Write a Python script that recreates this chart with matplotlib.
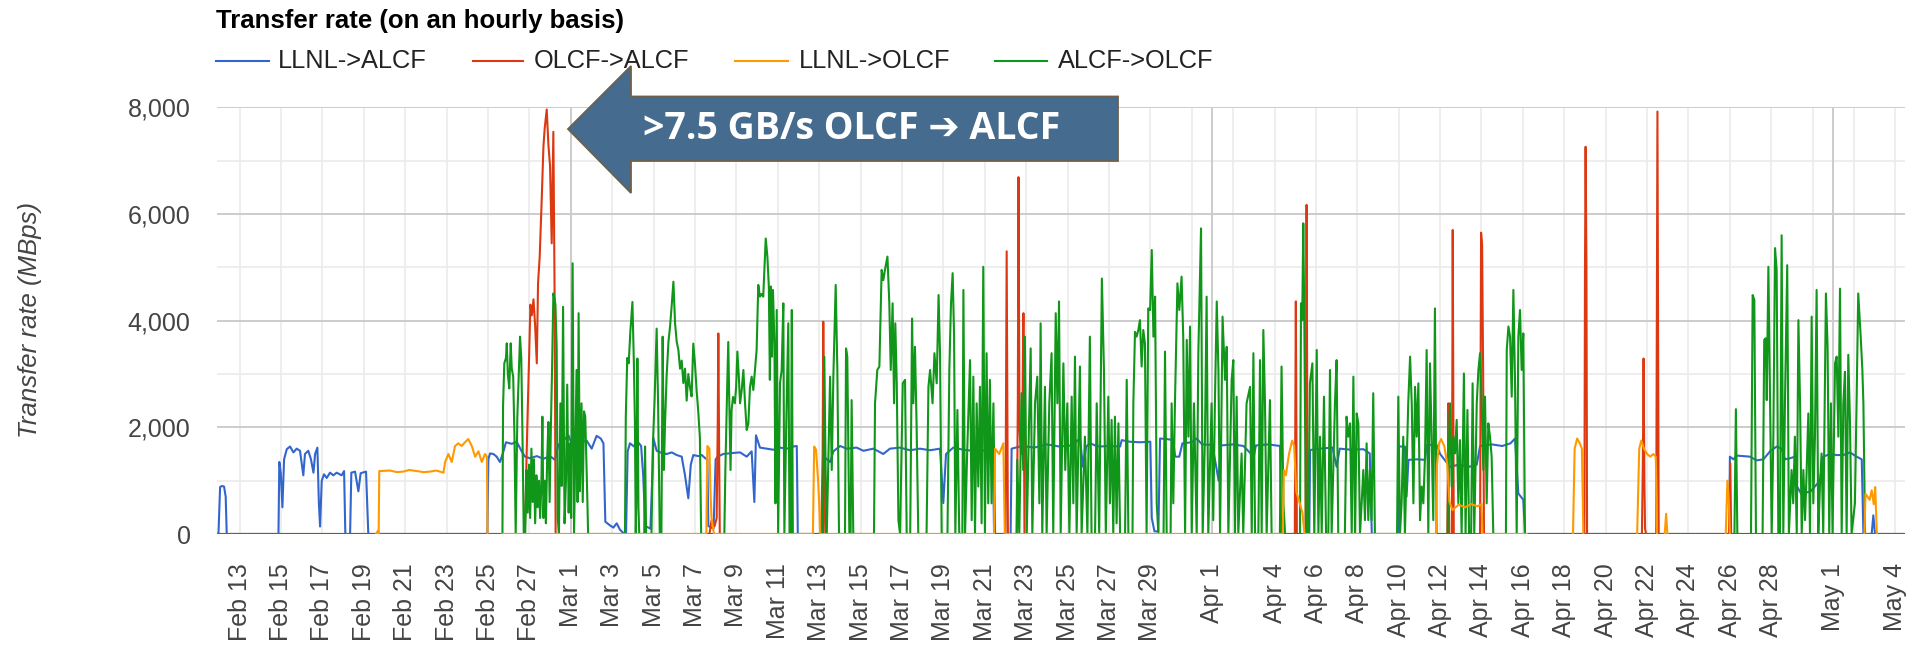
import numpy as np
import matplotlib
matplotlib.use("Agg")
import matplotlib.pyplot as plt
from matplotlib.patches import Polygon
from matplotlib.lines import Line2D
from datetime import datetime

W, H = 1915, 646
START = datetime(2021, 2, 12)   # day 0 of the time axis

# (days since Feb 12, transfer rate in MBps); None = no data
llnl_alcf = [
    (-0.09, 0), (-0.02, 0), (0.06, 880), (0.15, 900), (0.25, 890), (0.33, 700), (0.38, 0),
    (2.88, 0), (2.92, 1350), (2.99, 1150), (3.07, 500), (3.15, 1400), (3.28, 1590), (3.44, 1640),
    (3.60, 1530), (3.76, 1600), (3.92, 1560), (4.08, 1100), (4.16, 1500), (4.32, 1560), (4.45, 1400),
    (4.57, 1150), (4.65, 1500), (4.76, 1620), (4.83, 600), (4.89, 140), (4.97, 1000), (5.08, 1120),
    (5.21, 1050), (5.37, 1150), (5.53, 1100), (5.69, 1150), (5.93, 1100), (6.05, 1180), (6.11, 0),
    (6.34, 0), (6.40, 1150), (6.58, 1170), (6.74, 800), (6.85, 1140), (7.11, 1170), (7.22, 0),
    (12.97, 0), (13.02, 1400), (13.10, 1510), (13.26, 1500), (13.42, 1450), (13.58, 1350),
    (13.75, 1550), (13.87, 1720), (14.15, 1690), (14.39, 1730), (14.63, 1550), (14.79, 1450),
    (15.03, 1420), (15.36, 1460), (15.68, 1410), (16.00, 1460), (16.24, 1390), (16.40, 1670),
    (16.64, 1750), (16.89, 1850), (17.13, 1600), (17.45, 1720), (17.77, 1750), (18.01, 1600),
    (18.25, 1840), (18.45, 1790), (18.58, 1700), (18.67, 230), (18.90, 160), (19.06, 120),
    (19.22, 200), (19.38, 80), (19.54, 20), (19.59, 0), (19.67, 0), (19.75, 1550), (19.86, 1700),
    (20.06, 1640), (20.19, 1750), (20.40, 1650), (20.50, 1100), (20.60, 150), (20.85, 100),
    (20.95, 1200), (20.99, 1800), (21.15, 1560), (21.39, 1520), (21.64, 1500), (21.88, 1530),
    (22.12, 1480), (22.36, 1450), (22.52, 1100), (22.68, 670), (22.80, 1300), (22.92, 1480),
    (23.17, 1460), (23.33, 1480), (23.50, 1420), (23.60, 1400), (23.65, 150), (23.90, 100),
    (24.00, 1400), (24.10, 1450), (24.37, 1500), (24.86, 1520), (25.18, 1530), (25.50, 1450),
    (25.74, 1550), (25.87, 600), (25.95, 1850), (26.14, 1620), (26.47, 1600), (26.79, 1580),
    (27.11, 1620), (27.43, 1600), (27.75, 1640), (27.92, 1650), (27.97, 0), (29.18, 0),
    (29.22, 1450), (29.53, 1350), (29.69, 1550), (30.01, 1650), (30.33, 1600), (30.81, 1620),
    (31.14, 1560), (31.62, 1600), (32.10, 1500), (32.42, 1600), (32.91, 1620), (33.39, 1570),
    (33.87, 1600), (34.36, 1570), (34.84, 1600), (35.00, 580), (35.13, 1500), (35.48, 1620),
    (35.97, 1580), (36.61, 1550), (37.26, 1580), (37.40, 1600), (37.45, 0), (38.25, 0),
    (38.30, 1600), (38.80, 1650), (39.40, 1620), (40.00, 1680), (40.60, 1640), (41.20, 1660),
    (41.60, 1790), (41.75, 1260), (41.90, 1640), (42.10, 1700), (42.40, 1650), (42.57, 1640),
    (43.00, 1650), (43.54, 1640), (43.62, 1760), (44.00, 1730), (44.50, 1720), (45.00, 1730),
    (45.07, 300), (45.20, 50), (45.39, 50), (45.47, 1790), (45.80, 1780), (46.10, 1760),
    (46.20, 1450), (46.40, 1450), (46.55, 1700), (47.00, 1720), (47.24, 1790), (47.50, 1680),
    (48.00, 1670), (48.30, 1000), (48.40, 1660), (49.00, 1680), (49.50, 1650), (50.00, 1450),
    (50.10, 1660), (50.70, 1680), (51.27, 1650), (51.32, 0), (52.68, 0), (52.72, 1575),
    (53.20, 1600), (53.80, 1620), (54.00, 1260), (54.15, 1600), (54.70, 1580), (55.30, 1590),
    (55.60, 1510), (55.70, 0), (56.96, 0), (57.00, 1640), (57.30, 1640), (57.38, 700),
    (57.47, 1390), (57.90, 1400), (58.27, 1390), (58.35, 1670), (58.83, 1670), (59.00, 1500),
    (59.48, 1260), (59.90, 1300), (60.40, 1260), (60.77, 1300), (60.93, 1650), (61.50, 1680),
    (62.00, 1650), (62.40, 1700), (62.62, 1790), (62.78, 760), (63.02, 640), (63.10, 0),
    (72.97, 0), (73.00, 1450), (73.17, 1400), (73.33, 1470), (73.65, 1460), (73.97, 1450),
    (74.29, 1380), (74.62, 1400), (74.94, 1550), (75.26, 1640), (75.50, 1600), (75.66, 1400),
    (75.90, 1420), (76.15, 1450), (76.23, 900), (76.45, 750), (76.90, 800), (77.35, 1000),
    (77.51, 1450), (77.84, 1500), (78.16, 1480), (78.48, 1480), (78.80, 1530), (79.12, 1450),
    (79.37, 1400), (79.45, 0), (79.85, 0), (79.93, 350), (80.01, 0), (81.46, 0),
]

olcf_alcf = [
    (-0.09, 0), (14.78, 0), (14.90, 2000), (15.00, 3500), (15.05, 4300), (15.12, 4100),
    (15.20, 4400), (15.28, 3900), (15.36, 3200), (15.42, 4700), (15.50, 5200), (15.60, 6300),
    (15.68, 7260), (15.74, 7600), (15.84, 7960), (15.92, 7300), (16.00, 6900), (16.08, 5450),
    (16.16, 7540), (16.22, 4500), (16.27, 0), (23.70, 0), (23.80, 250), (23.95, 150),
    (24.05, 300), (24.10, 2000), (24.13, 3760), (24.17, 1500), (24.20, 0), (29.10, 0),
    (29.17, 1500), (29.20, 3980), (29.25, 1000), (29.30, 0), (38.00, 0), (38.06, 5300),
    (38.12, 0), (38.55, 0), (38.60, 2500), (38.63, 6690), (38.68, 2000), (38.75, 1500),
    (38.82, 2200), (38.87, 4140), (38.92, 0), (51.98, 0), (52.03, 4360), (52.08, 0),
    (52.50, 0), (52.55, 6170), (52.60, 0), (59.35, 0), (59.40, 2450), (59.44, 0), (59.57, 0),
    (59.61, 5700), (59.66, 0), (60.93, 0), (60.98, 5650), (61.03, 5400), (61.08, 3000),
    (61.12, 0), (65.97, 0), (66.00, 5000), (66.03, 7260), (66.07, 5000), (66.10, 0),
    (68.75, 0), (68.80, 1500), (68.83, 3290), (68.87, 1000), (68.90, 100), (68.95, 0),
    (69.44, 0), (69.50, 7920), (69.56, 0), (72.95, 0), (73.02, 1325), (73.06, 0), (81.46, 0),
]

llnl_olcf = [
    (7.60, 0), (7.68, 60), (7.72, 0), (7.75, 1180), (8.27, 1190), (8.60, 1160), (8.91, 1170),
    (9.20, 1200), (9.56, 1180), (9.90, 1160), (10.20, 1170), (10.50, 1190), (10.85, 1150),
    (10.93, 1350), (11.09, 1500), (11.25, 1350), (11.41, 1650), (11.57, 1700), (11.73, 1650),
    (11.89, 1720), (12.05, 1780), (12.22, 1650), (12.38, 1450), (12.54, 1550), (12.70, 1350),
    (12.86, 1500), (12.95, 1450), (12.98, 0), (13.02, None), (13.70, 0), (23.55, 0),
    (23.60, 1650), (23.70, 1600), (23.75, 800), (23.80, 300), (23.88, 100), (23.92, 0),
    (28.70, 0), (28.76, 1640), (28.85, 1580), (28.95, 1000), (29.00, 600), (29.05, 0),
    (37.45, 0), (37.50, 1600), (37.60, 1550), (37.70, 1500), (37.80, 1600), (37.90, 1700),
    (37.97, 0), (51.40, 0), (51.45, 1200), (51.55, 1100), (51.70, 1500), (51.85, 1750),
    (51.95, 1650), (52.05, 800), (52.20, 600), (52.35, 400), (52.45, 0), (58.80, 0),
    (58.85, 1300), (58.95, 1700), (59.05, 1780), (59.20, 1650), (59.35, 1300), (59.45, 600),
    (59.60, 450), (59.90, 550), (60.20, 500), (60.50, 560), (60.80, 520), (61.00, 560),
    (61.05, 0), (63.20, 0), (63.25, None), (65.42, 0), (65.50, 1600), (65.62, 1790),
    (65.75, 1700), (65.85, 1600), (65.92, 0), (65.95, None), (68.52, 0), (68.62, 1600),
    (68.72, 1750), (68.85, 1600), (69.00, 1500), (69.15, 1450), (69.30, 1500), (69.42, 1450),
    (69.48, 0), (69.52, None), (69.85, 0), (69.92, 380), (69.98, 0), (70.02, None),
    (72.80, 0), (72.88, 1000), (72.95, 600), (73.00, 0), (73.03, None), (79.50, 0),
    (79.55, 750), (79.65, 700), (79.75, 640), (79.85, 820), (79.95, 560), (80.02, 880),
    (80.10, 0),
]

alcf_olcf = [
    (-0.09, 0), (13.70, 0), (13.73, 2400), (13.79, 3200), (13.87, 3300), (13.91, 3575),
    (13.96, 3000), (14.03, 2730), (14.10, 3575), (14.15, 3100), (14.22, 2950), (14.28, 1825),
    (14.34, 0), (14.42, 2200), (14.49, 3000), (14.55, 3700), (14.61, 3300), (14.67, 1800),
    (14.73, 0), (14.80, 0), (14.86, 1200), (14.92, 400), (14.98, 1300), (15.04, 300),
    (15.10, 1600), (15.16, 600), (15.22, 1400), (15.28, 200), (15.34, 1100), (15.40, 500),
    (15.47, 1000), (15.52, 300), (15.58, 900), (15.63, 2200), (15.68, 300), (15.74, 1000),
    (15.80, 200), (15.86, 1400), (15.92, 2100), (15.98, 600), (16.04, 2000), (16.10, 3140),
    (16.16, 4510), (16.22, 4400), (16.26, 4300), (16.32, 3500), (16.37, 300), (16.43, 0),
    (16.50, 2450), (16.56, 900), (16.63, 4260), (16.70, 200), (16.77, 1000), (16.83, 2800),
    (16.90, 400), (16.96, 1700), (17.02, 300), (17.09, 5075), (17.16, 0), (17.22, 1500),
    (17.28, 3075), (17.33, 600), (17.38, 4140), (17.44, 800), (17.52, 2450), (17.58, 600),
    (17.64, 2300), (17.70, 2200), (17.78, 1000), (17.84, 0), (19.62, 0), (19.66, 2200),
    (19.73, 3300), (19.80, 3200), (19.88, 3800), (19.98, 4350), (20.05, 3200), (20.10, 2100),
    (20.14, 0), (20.18, 1000), (20.22, 3290), (20.27, 500), (20.31, 0), (20.55, 0),
    (20.59, 1640), (20.64, 0), (20.90, 0), (20.97, 1700), (21.05, 2500), (21.15, 3850),
    (21.22, 2450), (21.30, 0), (21.38, 0), (21.44, 3700), (21.50, 1200), (21.55, 2000),
    (21.63, 2950), (21.72, 3600), (21.80, 3900), (21.88, 4300), (21.96, 4730), (22.04, 3950),
    (22.12, 3600), (22.20, 3450), (22.28, 3100), (22.36, 3250), (22.44, 2830), (22.52, 3100),
    (22.60, 2500), (22.68, 3000), (22.76, 2750), (22.84, 2580), (22.92, 3570), (23.00, 3200),
    (23.08, 2700), (23.16, 2300), (23.24, 1800), (23.30, 0), (24.42, 0), (24.47, 1200),
    (24.54, 2450), (24.61, 3600), (24.66, 2450), (24.72, 1200), (24.77, 2320), (24.84, 2570),
    (24.93, 2450), (24.99, 2760), (25.05, 3420), (25.12, 2950), (25.18, 2450), (25.26, 2700),
    (25.34, 3075), (25.42, 2450), (25.50, 1950), (25.58, 2070), (25.66, 2760), (25.74, 2950),
    (25.82, 2700), (25.90, 3075), (25.98, 3450), (26.06, 4670), (26.14, 4450), (26.22, 4500),
    (26.30, 4450), (26.42, 5540), (26.50, 5200), (26.57, 4640), (26.62, 2890), (26.67, 4640),
    (26.72, 3325), (26.77, 4575), (26.84, 3575), (26.89, 575), (26.95, 4200), (27.02, 0),
    (27.11, 2830), (27.19, 3075), (27.27, 4325), (27.32, 0), (27.43, 2450), (27.51, 3950),
    (27.57, 0), (27.63, 0), (27.68, 4200), (27.73, 0), (29.18, 0), (29.25, 3325), (29.32, 1000),
    (29.37, 0), (29.45, 1500), (29.53, 2950), (29.61, 1200), (29.69, 3000), (29.80, 4670),
    (29.88, 3075), (29.96, 0), (30.25, 0), (30.30, 3480), (30.36, 3325), (30.46, 0), (30.52, 0),
    (30.57, 2510), (30.65, 0), (31.65, 0), (31.70, 2450), (31.81, 3075), (31.91, 3140),
    (32.02, 4950), (32.10, 4760), (32.18, 4950), (32.30, 5200), (32.39, 4325), (32.46, 3075),
    (32.55, 4325), (32.62, 2450), (32.68, 3950), (32.75, 2825), (32.83, 260), (32.91, 0),
    (33.04, 2825), (33.15, 2890), (33.23, 0), (33.40, 0), (33.49, 4040), (33.55, 2450),
    (33.63, 3510), (33.71, 2010), (33.79, 0), (34.19, 0), (34.28, 2760), (34.36, 3075),
    (34.48, 2450), (34.57, 3390), (34.68, 2825), (34.77, 4480), (34.84, 3390), (34.92, 0),
    (35.20, 0), (35.29, 3075), (35.37, 4325), (35.45, 4890), (35.52, 3700), (35.58, 0),
    (35.68, 2325), (35.77, 0), (35.92, 0), (35.97, 4575), (36.05, 0), (36.15, 1500),
    (36.29, 3260), (36.37, 260), (36.45, 2950), (36.53, 0), (36.61, 2450), (36.69, 890),
    (36.77, 2760), (36.85, 200), (36.93, 5010), (37.01, 0), (37.09, 3390), (37.17, 575),
    (37.25, 2890), (37.33, 575), (37.42, 2450), (37.50, 0), (38.54, 0), (38.57, 1390),
    (38.67, 0), (38.78, 2640), (38.86, 1200), (38.94, 3700), (39.03, 0), (39.11, 1510),
    (39.22, 3480), (39.30, 0), (39.43, 2450), (39.54, 2950), (39.64, 575), (39.70, 3950),
    (39.78, 0), (39.91, 2760), (39.99, 0), (40.12, 2450), (40.23, 3390), (40.31, 0),
    (40.43, 4140), (40.51, 2450), (40.59, 4360), (40.67, 0), (40.80, 3200), (40.89, 1200),
    (40.99, 2450), (41.09, 0), (41.20, 2575), (41.28, 575), (41.36, 3325), (41.44, 0),
    (41.60, 3140), (41.68, 0), (41.84, 1825), (41.96, 0), (42.08, 3700), (42.16, 0),
    (42.33, 0), (42.41, 2450), (42.53, 0), (42.66, 4790), (42.76, 3075), (42.85, 0),
    (42.97, 2575), (43.05, 575), (43.13, 2140), (43.21, 0), (43.29, 2200), (43.37, 200),
    (43.46, 2075), (43.54, 0), (43.78, 0), (43.86, 2890), (43.94, 0), (44.14, 0), (44.18, 2450),
    (44.26, 3790), (44.34, 3700), (44.42, 3825), (44.50, 4010), (44.58, 3140), (44.66, 3825),
    (44.74, 3575), (44.82, 0), (44.90, 4230), (44.99, 4200), (45.07, 5325), (45.15, 3700),
    (45.23, 4450), (45.31, 575), (45.39, 0), (45.64, 0), (45.71, 3420), (45.79, 0), (45.98, 0),
    (46.03, 2450), (46.11, 575), (46.19, 2450), (46.31, 4700), (46.40, 4200), (46.51, 4825),
    (46.59, 3700), (46.68, 0), (46.76, 3640), (46.84, 1825), (46.92, 3890), (47.00, 0),
    (47.11, 2450), (47.24, 0), (47.32, 3390), (47.45, 5730), (47.53, 0), (47.64, 1825),
    (47.72, 4450), (47.80, 0), (47.96, 2450), (48.04, 260), (48.12, 2450), (48.21, 4360),
    (48.29, 3075), (48.37, 0), (48.49, 4075), (48.61, 2890), (48.69, 3510), (48.77, 0),
    (48.93, 2890), (49.01, 3260), (49.09, 0), (49.17, 2575), (49.25, 0), (49.41, 1510),
    (49.49, 0), (49.65, 2450), (49.82, 2760), (49.90, 0), (49.98, 3390), (50.06, 0), (50.22, 0),
    (50.30, 3260), (50.38, 0), (50.46, 3825), (50.54, 2450), (50.62, 0), (50.78, 2510),
    (50.86, 0), (51.26, 0), (51.34, 3140), (51.43, 575), (51.51, 0), (52.23, 0), (52.28, 4325),
    (52.34, 4010), (52.39, 5825), (52.44, 4010), (52.52, 0), (52.63, 0), (52.71, 2825),
    (52.83, 3200), (52.92, 0), (53.04, 3450), (53.12, 0), (53.20, 1825), (53.28, 0),
    (53.39, 2575), (53.49, 0), (53.60, 0), (53.68, 3075), (53.76, 0), (53.92, 2450),
    (54.00, 3260), (54.08, 0), (54.40, 0), (54.48, 2200), (54.56, 1825), (54.65, 2075),
    (54.73, 0), (54.81, 2950), (54.89, 0), (54.97, 2260), (55.05, 2075), (55.13, 0),
    (55.21, 575), (55.29, 1200), (55.37, 260), (55.45, 1700), (55.53, 260), (55.61, 1200),
    (55.69, 260), (55.77, 2640), (55.85, 0), (56.92, 0), (56.98, 2575), (57.06, 0),
    (57.14, 575), (57.22, 1825), (57.30, 0), (57.46, 2450), (57.55, 3325), (57.63, 2450),
    (57.71, 575), (57.79, 2760), (57.87, 1825), (57.95, 2825), (58.03, 260), (58.11, 890),
    (58.19, 575), (58.27, 1450), (58.35, 3450), (58.43, 0), (58.51, 3200), (58.59, 1825),
    (58.67, 260), (58.75, 4230), (58.83, 0), (59.36, 0), (59.40, 1200), (59.48, 2450),
    (59.56, 890), (59.64, 1825), (59.72, 1510), (59.80, 2140), (59.88, 575), (59.96, 1760),
    (60.04, 0), (60.15, 3010), (60.23, 0), (60.32, 2325), (60.40, 0), (60.50, 0), (60.57, 2825),
    (60.65, 0), (60.77, 2450), (60.85, 3075), (60.93, 3390), (61.01, 2450), (61.09, 1200),
    (61.17, 2575), (61.25, 575), (61.33, 2075), (61.41, 1825), (61.49, 1450), (61.57, 0),
    (62.18, 0), (62.22, 3450), (62.30, 3890), (62.38, 3700), (62.46, 2575), (62.54, 4575),
    (62.62, 2825), (62.70, 0), (62.78, 3700), (62.86, 4200), (62.94, 3075), (63.02, 3760),
    (63.10, 0), (73.22, 0), (73.29, 2340), (73.36, 0), (74.02, 0), (74.10, 4480), (74.18, 4390),
    (74.26, 0), (74.58, 0), (74.66, 3640), (74.73, 3670), (74.78, 2510), (74.86, 5010),
    (74.94, 2450), (75.02, 0), (75.10, 1825), (75.18, 5360), (75.26, 4950), (75.34, 0),
    (75.42, 0), (75.50, 5600), (75.58, 0), (75.66, 2450), (75.77, 5040), (75.85, 0),
    (75.98, 1200), (76.06, 575), (76.14, 1825), (76.23, 0), (76.31, 4010), (76.39, 2450),
    (76.47, 0), (76.55, 1200), (76.63, 260), (76.71, 1200), (76.79, 2260), (76.87, 0),
    (76.95, 4075), (77.03, 575), (77.11, 1825), (77.19, 4575), (77.27, 0), (77.35, 890),
    (77.43, 1510), (77.51, 0), (77.64, 4510), (77.72, 3510), (77.80, 0), (77.88, 2450),
    (77.96, 0), (78.08, 3200), (78.16, 3325), (78.24, 1825), (78.32, 4600), (78.40, 0),
    (78.48, 2450), (78.56, 3040), (78.64, 0), (78.72, 3360), (78.80, 2140), (78.88, 0),
    (79.04, 575), (79.12, 2450), (79.20, 4510), (79.32, 3700), (79.40, 3075), (79.45, 2450),
    (79.53, 0), (81.46, 0),
]

series_names = ["LLNL->ALCF", "OLCF->ALCF", "LLNL->OLCF", "ALCF->OLCF"]
series_colors = ["#3366cc", "#dc3912", "#ff9900", "#109618"]
series_data = [llnl_alcf, olcf_alcf, llnl_olcf, alcf_olcf]

tick_labels = ["Feb 13", "Feb 15", "Feb 17", "Feb 19", "Feb 21", "Feb 23", "Feb 25", "Feb 27",
               "Mar 1", "Mar 3", "Mar 5", "Mar 7", "Mar 9", "Mar 11", "Mar 13", "Mar 15",
               "Mar 17", "Mar 19", "Mar 21", "Mar 23", "Mar 25", "Mar 27", "Mar 29", "Apr 1",
               "Apr 4", "Apr 6", "Apr 8", "Apr 10", "Apr 12", "Apr 14", "Apr 16", "Apr 18",
               "Apr 20", "Apr 22", "Apr 24", "Apr 26", "Apr 28", "May 1", "May 4"]
y_ticks = [0, 2000, 4000, 6000, 8000]


def day_of(label):
    return (datetime.strptime(label + " 2021", "%b %d %Y") - START).days


def px(x, y):
    return x / W, 1 - y / H


plt.rcParams['font.family'] = ['Liberation Sans', 'DejaVu Sans']
fig = plt.figure(figsize=(W / 100, H / 100), dpi=100)
ax = fig.add_axes([217 / W, (H - 534) / H, (1905 - 217) / W, (534 - 107.3) / H])
ax.set_xlim(-0.09, 81.46)
ax.set_ylim(0, 8000)

# grid
for d in range(1, 82, 2):
    ax.axvline(d, color="#ebebeb", lw=1.2, zorder=0)
for m in ["Mar 1", "Apr 1", "May 1"]:
    ax.axvline(day_of(m), color="#cccccc", lw=1.4, zorder=0.5)
for v in [1000, 3000, 5000, 7000]:
    ax.axhline(v, color="#ebebeb", lw=1.2, zorder=0)
for v in y_ticks:
    ax.axhline(v, color="#cccccc", lw=1.4, zorder=0.5)

zorders = [2, 3, 5, 4]
for name, col, data, z in zip(series_names, series_colors, series_data, zorders):
    arr = np.array(data, dtype=float)
    ax.plot(arr[:, 0], arr[:, 1], color=col, lw=1.5, zorder=z, label=name)

for s in ax.spines.values():
    s.set_visible(False)
ax.set_xticks([day_of(l) for l in tick_labels])
ax.set_xticklabels(tick_labels, rotation=90, fontsize=18, color="#444444")
ax.set_yticks(y_ticks)
ax.set_yticklabels([f"{v:,}" for v in y_ticks], fontsize=18, color="#444444")
ax.tick_params(axis="x", length=0, pad=21)
ax.tick_params(axis="y", length=0, pad=19)

fig.text(*px(30, 320), "Transfer rate (MBps)", rotation=90, style="italic", fontsize=18.5,
         color="#444444", ha="center", va="center")
fig.text(*px(216, 21), "Transfer rate (on an hourly basis)", fontweight="bold", fontsize=18.5,
         color="black", ha="left", va="center")

# legend
leg_x = [(216, 269, 278), (473, 523, 534), (735, 788, 799), (995, 1047, 1058)]
for (x0, x1, xt), name, col in zip(leg_x, series_names, series_colors):
    fig.add_artist(Line2D([x0 / W, x1 / W], [1 - 61 / H] * 2, color=col, lw=1.5))
    fig.text(*px(xt, 61), name, fontsize=18.3, color="#222222", ha="left", va="center")

# callout arrow
arrow_px = [(568, 129), (631, 66), (631, 96.5), (1118, 96.5), (1118, 161), (631, 161), (631, 193)]
fig.add_artist(Polygon([px(x, y) for x, y in arrow_px], closed=True, facecolor="#456b8f",
                       edgecolor="#6e604a", lw=1.3, transform=fig.transFigure, zorder=10))
fig.text(*px(643, 129), ">7.5 GB/s OLCF \u2794 ALCF", fontsize=27, fontweight="bold",
         color="white", family=["Open Sans", "DejaVu Sans"], ha="left", va="center", zorder=11)

fig.savefig("out.png", dpi=100)
